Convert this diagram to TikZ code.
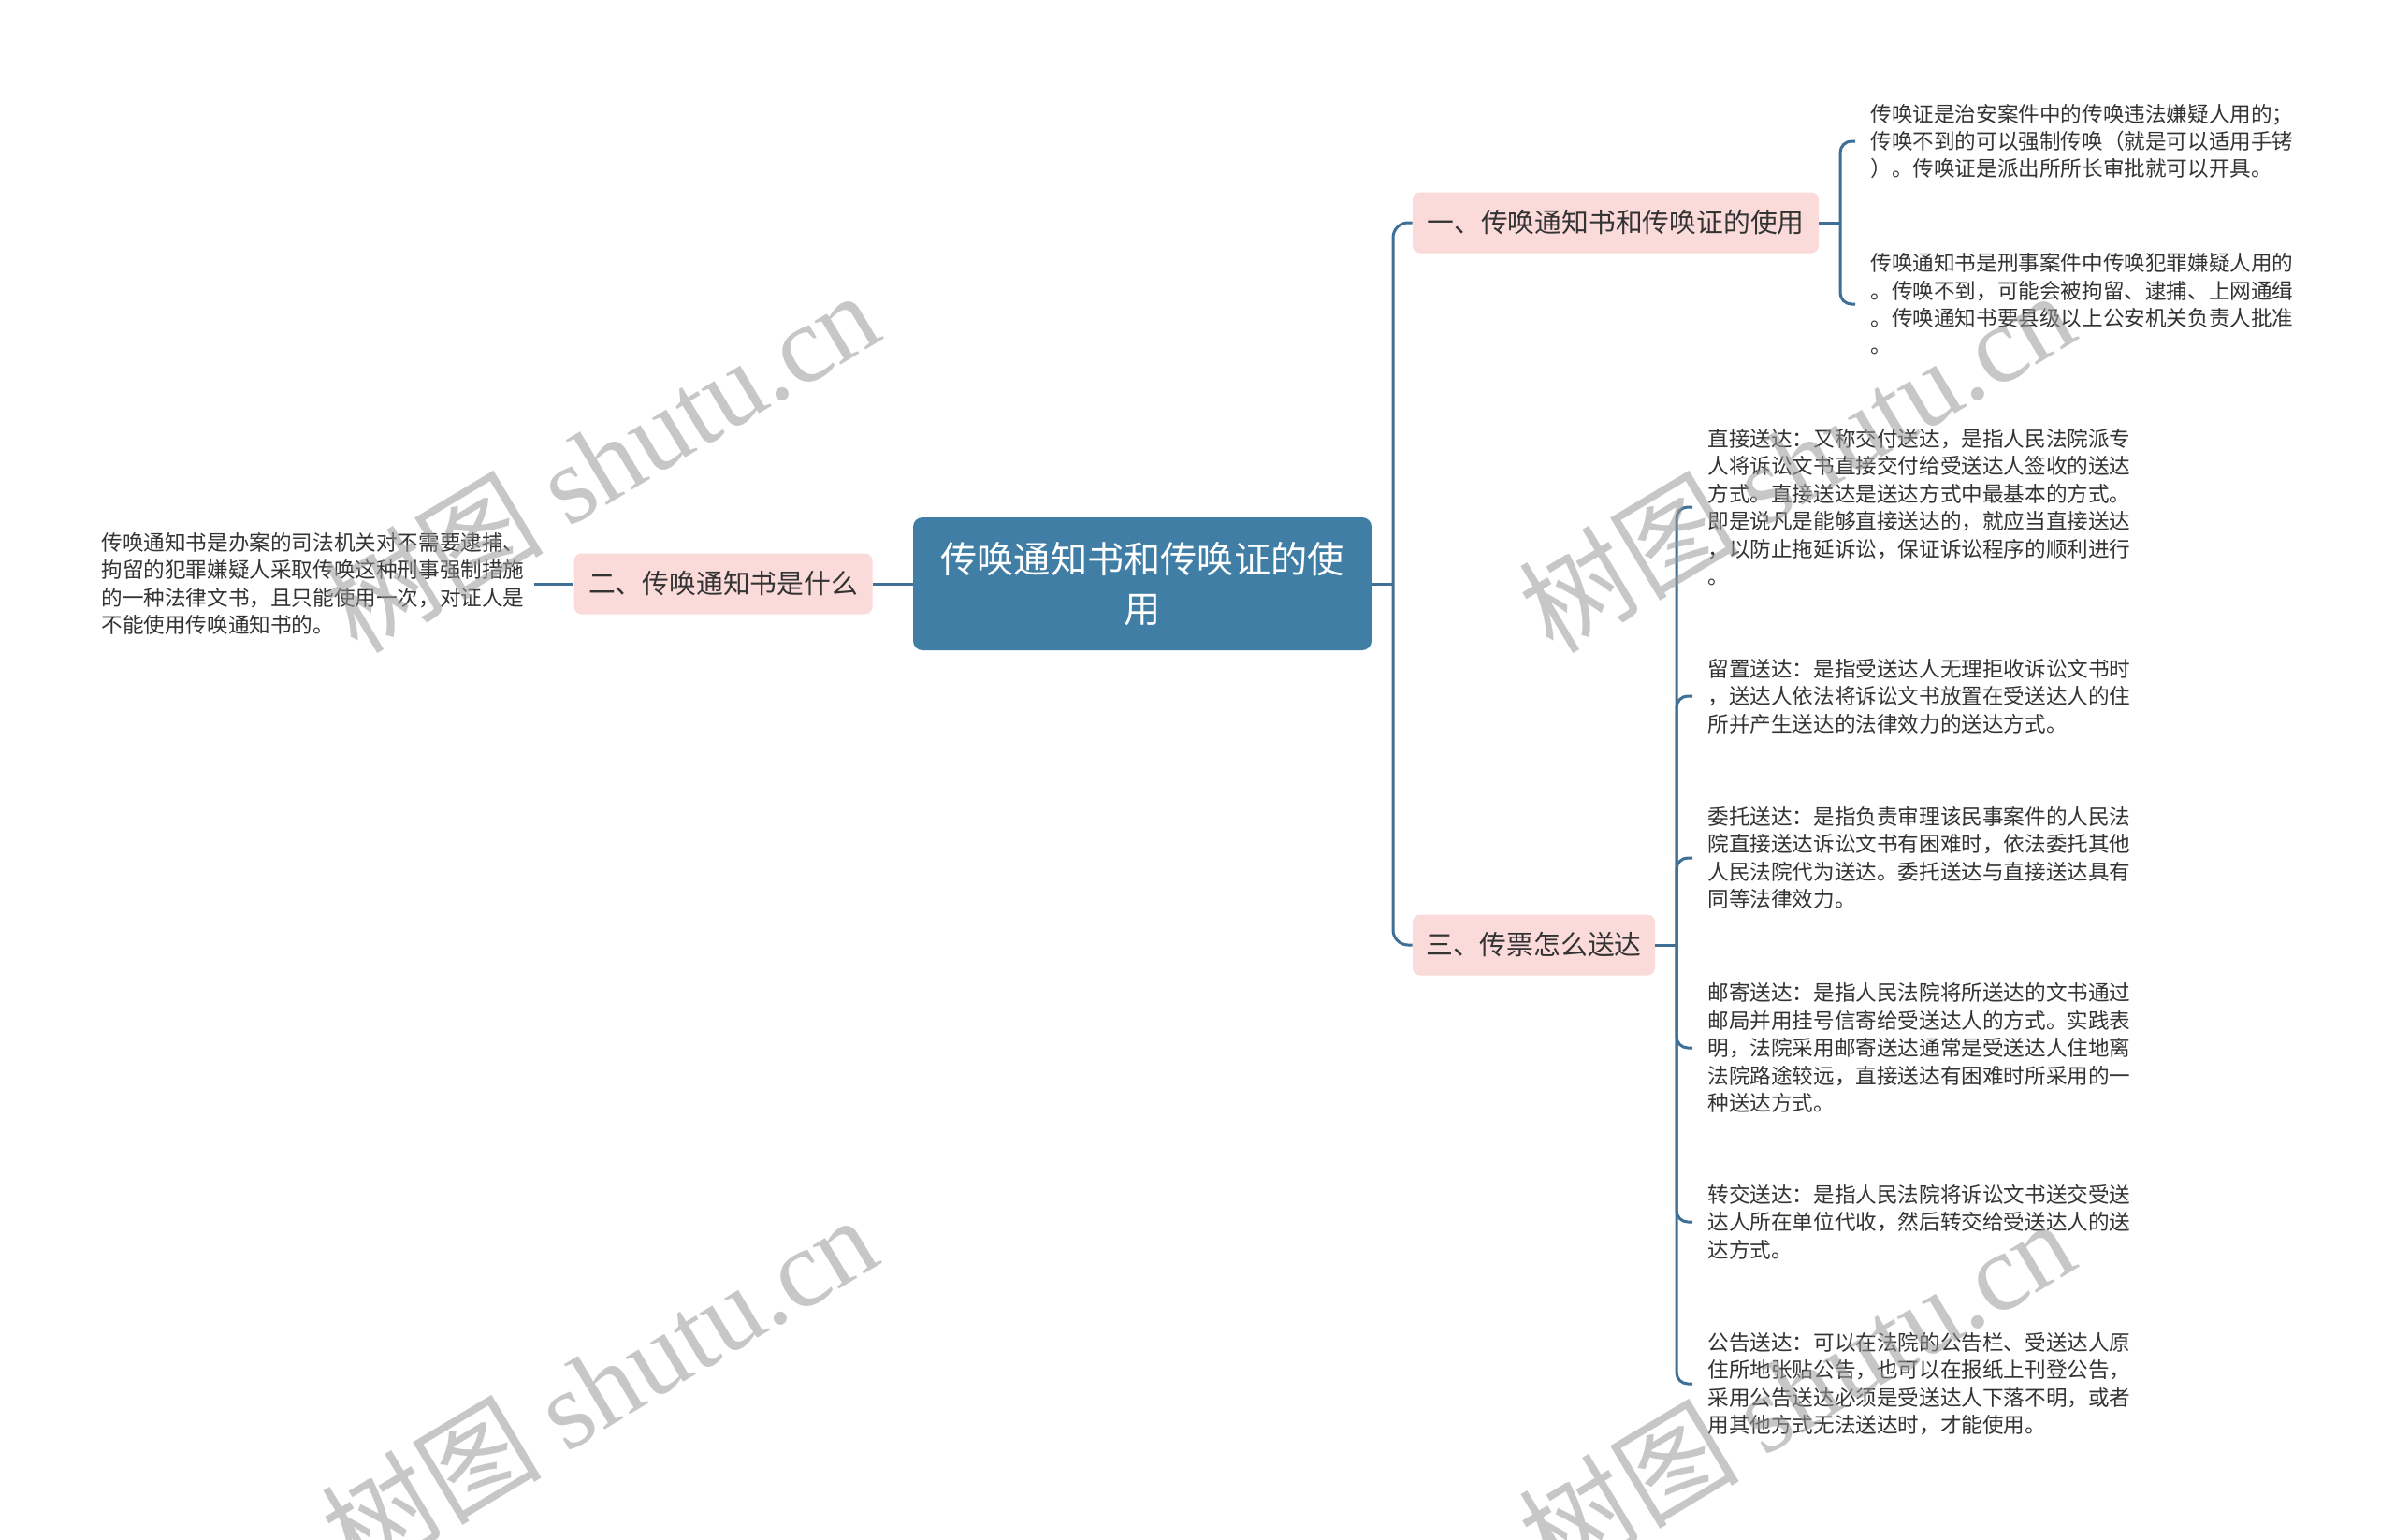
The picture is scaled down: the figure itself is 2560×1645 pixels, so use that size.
\documentclass[tikz,border=0pt]{standalone}
\usepackage{fontspec}
\setmainfont{Noto Sans CJK SC}
\newfontfamily\cjk{Noto Sans CJK SC}
\newfontfamily\wmlatin{Liberation Serif}
\usetikzlibrary{calc}
\definecolor{linec}{RGB}{63,111,148}
\definecolor{rootc}{RGB}{64,126,165}
\definecolor{pinkc}{RGB}{251,218,218}
\definecolor{txtc}{RGB}{51,51,51}
\tikzset{
  conn/.style={draw=linec, line width=1.5pt},
  rootbox/.style={rectangle, rounded corners=5pt, fill=rootc, text=white,
    font=\fontsize{19.6pt}{26.3pt}\selectfont, align=center, inner sep=0pt,
    minimum width=245pt, minimum height=71pt},
  pinkbox/.style={rectangle, rounded corners=4pt, fill=pinkc, text=txtc,
    font=\fontsize{14.4pt}{18pt}\selectfont, inner sep=0pt, minimum height=32.5pt},
  leaf/.style={anchor=west, inner sep=0pt, text=txtc, align=left,
    font=\fontsize{11.3pt}{14.7pt}\selectfont},
  wm/.style={text=black!40, opacity=0.55, inner sep=0pt, rotate=31,
    font=\fontsize{59pt}{59pt}\selectfont}
}
\begin{document}
\begin{tikzpicture}[x=0.5pt,y=-0.5pt]
\useasboundingbox (0,0) rectangle (2560,1645);
% root
\node[rootbox] (c) at (1221,624) {传唤通知书和传唤证的使\\用};
% left branch
\node[pinkbox, minimum width=159.5pt] (l) at (773,624) {二、传唤通知书是什么};
\node[leaf] (lt) at (108,624) {传唤通知书是办案的司法机关对不需要逮捕、\\拘留的犯罪嫌疑人采取传唤这种刑事强制措施\\的一种法律文书，且只能使用一次，对证人是\\不能使用传唤通知书的。};
\coordinate (lte) at (571,624);
\draw[conn] (l.east) -- (c.west);
\draw[conn] (lte) -- (l.west);
% right branches
\node[pinkbox, minimum width=217pt] (n1) at (1727,238) {一、传唤通知书和传唤证的使用};
\node[pinkbox, minimum width=129.5pt] (n3) at (1639.5,1010) {三、传票怎么送达};
\coordinate (tj) at (1489,624);
\draw[conn] (c.east) -- (tj);
\draw[conn, rounded corners=8pt] (tj) |- (n1.west);
\draw[conn, rounded corners=8pt] (tj) |- (n3.west);
% children of n1
\node[leaf] (t1) at (1999,151) {传唤证是治安案件中的传唤违法嫌疑人用的；\\传唤不到的可以强制传唤（就是可以适用手铐\\）。传唤证是派出所所长审批就可以开具。};
\node[leaf] (t2) at (1999,325) {传唤通知书是刑事案件中传唤犯罪嫌疑人用的\\。传唤不到，可能会被拘留、逮捕、上网通缉\\。传唤通知书要县级以上公安机关负责人批准\\。};
\coordinate (b1) at (1967,238);
\draw[conn] (n1.east) -- (b1);
\draw[conn, rounded corners=6pt] (b1) |- ($(t1.west)+(-16,0)$);
\draw[conn, rounded corners=6pt] (b1) |- ($(t2.west)+(-16,0)$);
% children of n3
\node[leaf] (a) at (1825,542) {直接送达：又称交付送达，是指人民法院派专\\人将诉讼文书直接交付给受送达人签收的送达\\方式。直接送达是送达方式中最基本的方式。\\即是说凡是能够直接送达的，就应当直接送达\\，以防止拖延诉讼，保证诉讼程序的顺利进行\\。};
\node[leaf] (b) at (1825,744) {留置送达：是指受送达人无理拒收诉讼文书时\\，送达人依法将诉讼文书放置在受送达人的住\\所并产生送达的法律效力的送达方式。};
\node[leaf] (cc) at (1825,917) {委托送达：是指负责审理该民事案件的人民法\\院直接送达诉讼文书有困难时，依法委托其他\\人民法院代为送达。委托送达与直接送达具有\\同等法律效力。};
\node[leaf] (d) at (1825,1120) {邮寄送达：是指人民法院将所送达的文书通过\\邮局并用挂号信寄给受送达人的方式。实践表\\明，法院采用邮寄送达通常是受送达人住地离\\法院路途较远，直接送达有困难时所采用的一\\种送达方式。};
\node[leaf] (e) at (1825,1306) {转交送达：是指人民法院将诉讼文书送交受送\\达人所在单位代收，然后转交给受送达人的送\\达方式。};
\node[leaf] (f) at (1825,1479) {公告送达：可以在法院的公告栏、受送达人原\\住所地张贴公告，也可以在报纸上刊登公告，\\采用公告送达必须是受送达人下落不明，或者\\用其他方式无法送达时，才能使用。};
\coordinate (b3) at (1792,1010);
\draw[conn] (n3.east) -- (b3);
\foreach \k in {a,b,cc,d,e,f}{
  \draw[conn, rounded corners=6pt] (b3) |- ($(\k.west)+(-16,0)$);
}
% watermarks
\node[wm] (w1) at (642,492) {\cjk 树图 \wmlatin shutu.cn};
\node[wm] (w2) at (1920,492) {\cjk 树图 \wmlatin shutu.cn};
\node[wm] (w3) at (640,1480) {\cjk 树图 \wmlatin shutu.cn};
\node[wm] (w4) at (1920,1484) {\cjk 树图 \wmlatin shutu.cn};
\end{tikzpicture}
\end{document}
